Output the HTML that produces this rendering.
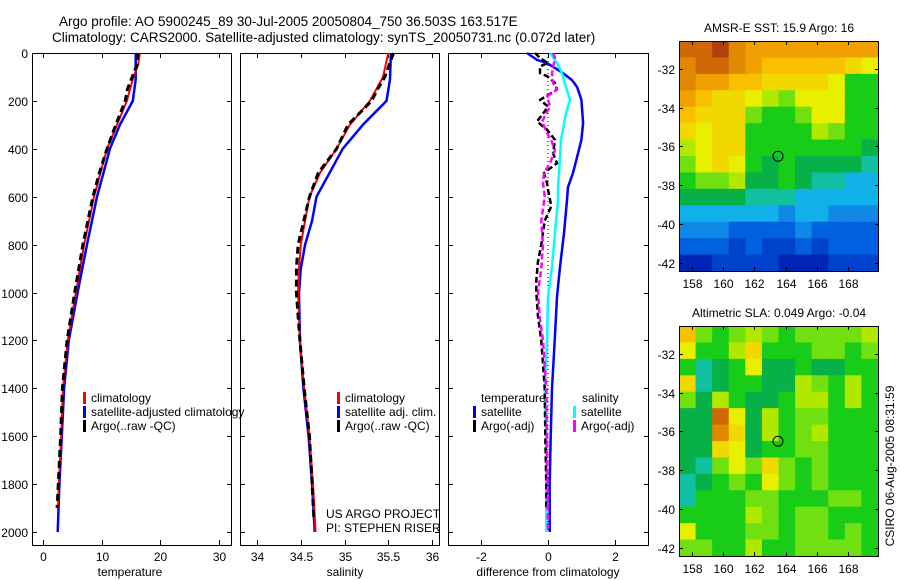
<!DOCTYPE html>
<html><head><meta charset="utf-8"><style>
html,body{margin:0;padding:0;background:#fff;}
svg{display:block;font-family:"Liberation Sans",sans-serif;}
</style></head><body>
<svg id="fig" width="900" height="580" viewBox="0 0 900 580">
<text x="59" y="26" font-size="13.5">Argo profile: AO 5900245_89 30-Jul-2005 20050804_750 36.503S 163.517E</text>
<text x="52" y="42" font-size="13.5">Climatology: CARS2000. Satellite-adjusted climatology: synTS_20050731.nc (0.072d later)</text>
<text x="779" y="32" font-size="12" text-anchor="middle">AMSR-E SST: 15.9 Argo: 16</text>
<text x="779" y="317" font-size="12" text-anchor="middle">Altimetric SLA: 0.049 Argo: -0.04</text>
<text transform="translate(894,466) rotate(-90)" font-size="12" text-anchor="middle">CSIRO 06-Aug-2005 08:31:59</text>
<text x="326" y="518" font-size="12">US ARGO PROJECT</text>
<text x="326" y="532" font-size="12">PI: STEPHEN RISER</text>
</svg>
<script>
// ---- profile data ----
const depthTicks=[0,200,400,600,800,1000,1200,1400,1600,1800,2000];
const tClimDepth=[0,50,100,200,300,400,500,600,800,1000,1200,1400,1600,1800,1900];
const tClim=[16.5,16.2,15.4,14.3,12.6,10.9,9.8,8.7,7.0,5.6,4.2,3.4,3.1,2.7,2.55];
const tSatDepth=[0,110,200,300,400,500,600,800,1000,1200,1400,1600,1800,2000];
const tSat=[15.8,15.8,15.3,13.1,11.4,10.3,9.2,7.5,5.9,4.4,3.6,3.2,2.8,2.5];
const tArgoDepth=[0,50,100,150,200,300,400,500,600,800,1000,1200,1400,1600,1800,1900];
const tArgo=[16.2,16.0,15.2,14.4,14.0,12.4,10.9,9.6,8.5,6.8,5.4,4.1,3.3,3.0,2.6,2.4];
const sClimDepth=[0,100,200,300,400,500,600,700,800,900,1000,1200,1400,1600,1800,2000];
const sClim=[35.5,35.44,35.29,35.06,34.91,34.72,34.6,34.55,34.5,34.48,34.47,34.49,34.54,34.6,34.64,34.67];
const sSatDepth=[0,110,200,300,400,500,600,700,800,900,1000,1200,1400,1600,1800,2000];
const sSat=[35.53,35.52,35.48,35.21,34.98,34.83,34.68,34.63,34.55,34.5,34.48,34.49,34.53,34.59,34.63,34.66];
const sArgoDepth=[0,100,150,200,300,400,500,600,800,900,1000,1200,1400,1600,1800,1950];
const sArgo=[35.56,35.46,35.38,35.31,35.04,34.91,34.7,34.6,34.47,34.45,34.45,34.49,34.54,34.6,34.63,34.65];
const dTSatDepth=[0,29,42,84,113,142,196,292,363,434,501,560,614,752,893,1018,1200,1400,1600,1800,2000];
const dTSat=[-0.63,-0.33,-0.03,0.45,0.72,0.87,1.0,1.05,1.0,0.87,0.75,0.6,0.57,0.48,0.36,0.27,0.2,0.12,0.08,0.05,0.05];
const dSSatDepth=[0,42,84,142,196,251,363,501,560,614,752,893,1018,1200,1400,1600,2000];
const dSSat=[0.06,0.27,0.42,0.54,0.66,0.54,0.39,0.33,0.3,0.3,0.21,0.12,0,-0.03,-0.1,-0.05,-0.05];
const dTArgoDepth=[0,21,42,56,84,97,125,153,196,223,244,286,320,363,418,460,501,543,571,640,700,800,870,950,1000,1100,1200,1400,1600,1800,1900];
const dTArgo=[-0.39,-0.24,0,-0.24,-0.24,-0.03,0.21,0.27,-0.24,0,-0.1,-0.33,-0.03,0.21,0.15,0.27,-0.12,-0.03,0,0.1,-0.1,-0.2,-0.3,-0.35,-0.35,-0.3,-0.2,-0.1,-0.08,-0.05,-0.05];
const dSArgoDepth=[0,21,84,125,153,181,223,286,334,363,404,460,501,543,600,700,800,900,1000,1100,1200,1400,1600,2000];
const dSArgo=[0.15,0.21,0.12,0.15,0.27,-0.03,0.06,-0.18,-0.03,0.09,0.21,0.06,-0.12,-0.15,-0.1,-0.2,-0.15,-0.2,-0.3,-0.25,-0.15,-0.05,-0.03,0];
const tTicks=[0,10,20,30];
const sTicks=[34,34.5,35,35.5,36];
const sTickLabels=["34","34.5","35","35.5","36"];
const dTicks=[-2,0,2];
// ---- map data (colour index 0..9) ----
const lonTicks=[158,160,162,164,166,168];
const latTicks=[-32,-34,-36,-38,-40,-42];
const sstGrid=[
[8.5,8.5,9,8,7.5,7.5,7.5,7.5,7.5,7.5,7.5,7.5],
[8,8.5,8.5,8,7.5,7,7,7,7,7,6.5,6],
[8,7.5,7.5,7,7,6.5,6.5,6.5,6.5,6,4.5,4.5],
[7.5,7,6.5,6.5,6,5.5,5,6,6,6,4.5,4.5],
[7,6.5,6.5,6.5,5,4.5,4.5,5,6,6,4.5,4.5],
[6.5,6,6.5,6.5,4.5,4.5,4.5,4.5,5.5,5,4.5,4.5],
[5.5,6,6.5,6.5,4.5,4.5,4.5,4.5,4.5,4.5,4.5,4],
[5,6,6.5,6,4.5,4,4.5,4,4,4,4,3.5],
[4.5,5,5,5.5,4,4,4.5,4,3.5,3.5,3,3],
[4,4,4,4,3.5,3.5,3.5,3,3,3,3,3],
[3,3,3,3,3,3,2.5,3,3,2.5,2.5,2.5],
[2.5,2.5,2.5,2,2,2,2,2.5,2,2,2,2],
[2,2,2,1.5,2,1.5,1.5,2,1.5,2,2,2],
[1,1,1.5,1.5,1.5,1.5,1,0.8,1,1.5,1.5,1.5]];
const slaGrid=[
[7,5,4.5,5,5.5,5,4.5,5,5,5,5,5.5],
[6,4.5,4.5,5.5,6.5,4.5,4.5,4.5,5,5,4.5,5],
[4.5,3.5,4,4.5,6,4,4,4.5,4,4,4.5,4.5],
[6.5,3.5,4,4.5,4.5,4,4,5.5,5,4.5,5.5,4.5],
[5,4,5.5,4.5,4,4,4.5,5.5,5.5,4.5,5.5,4.5],
[4,4,8.5,6,4,5.5,4.5,5,5,4.5,4.5,4.5],
[4,4,8,6.5,4,5.5,4.5,5,5.5,4.5,4.5,4.5],
[4,4,6.5,6,4,4.5,4.5,5,5,4.5,4.5,4.5],
[4,3.5,5,6,5,6.5,5,4.5,5,4.5,4.5,4.5],
[3.5,4,4.5,5,4.5,6,5,4.5,5,4.5,4.5,4.5],
[3.5,4.5,4.5,4.5,5,5,4.5,4.5,4.5,5,5,4.5],
[4.5,4.5,4.5,4.5,5.5,5,4.5,5,5,4.5,4.5,4.5],
[6,4.5,4.5,4.5,5,5,4.5,5,5,4.5,5,4.5],
[5,5,4.5,4.5,5.5,4.5,4.5,5,5,5,5,4.5]];
const argoLon=163.517, argoLat=-36.503;

const NS="http://www.w3.org/2000/svg";
const svg=document.getElementById('fig');
function mk(tag,attrs,parent){const e=document.createElementNS(NS,tag);for(const k in attrs)e.setAttribute(k,attrs[k]);(parent||svg).appendChild(e);return e;}
const yD=d=>53+d*0.2395;
const TOP=53,BOT=545;
const panels=[
 {x0:32,x1:231,sc:v=>43+v*5.87,name:'temperature-panel'},
 {x0:240,x1:439,sc:v=>257+(v-34)*87.5,name:'salinity-panel'},
 {x0:448,x1:648,sc:v=>548+v*33.4,name:'difference-panel'}];
panels.forEach((p,i)=>{
 const g=mk('g',{});
 
 
 const r=mk('rect',{x:p.x0+0.5,y:TOP+0.5,width:p.x1-p.x0,height:BOT-TOP,fill:'none',stroke:'#000','stroke-width':1},g);
 
 
 depthTicks.forEach(d=>{const y=Math.round(yD(d))+0.5;
  mk('line',{x1:p.x0,x2:p.x0+5,y1:y,y2:y,stroke:'#000'},g);
  mk('line',{x1:p.x1-4,x2:p.x1+1,y1:y,y2:y,stroke:'#000'},g);
  if(i===0){const t=mk('text',{x:28,y:y+4.5,'font-size':12,'text-anchor':'end'});t.textContent=d;
   
   }
 });
});
function xTicks(p,vals,labels){vals.forEach((v,k)=>{const x=Math.round(p.sc(v))+0.5;
 mk('line',{x1:x,x2:x,y1:BOT,y2:BOT-5,stroke:'#000'});
 mk('line',{x1:x,x2:x,y1:TOP,y2:TOP+5,stroke:'#000'});
 const t=mk('text',{x:x,y:BOT+16,'font-size':12,'text-anchor':'middle'});t.textContent=labels?labels[k]:v;
 
 });}
xTicks(panels[0],tTicks);xTicks(panels[1],sTicks,sTickLabels);xTicks(panels[2],dTicks);
[['temperature',130],['salinity',345],['difference from climatology',548]].forEach(a=>{
 const t=mk('text',{x:a[1],y:576,'font-size':12,'text-anchor':'middle'});t.textContent=a[0];
 
 });
function series(p,depths,vals,color,w,dash,name){
 const pts=depths.map((d,k)=>p.sc(vals[k]).toFixed(1)+','+yD(d).toFixed(1)).join(' ');
 const l=mk('polyline',{points:pts,fill:'none',stroke:color,'stroke-width':w,'stroke-dasharray':dash||'none','stroke-linejoin':'round'});
 
 }
const z=mk('line',{x1:548,x2:548,y1:yD(0),y2:yD(2000),stroke:'#000','stroke-width':1,'stroke-dasharray':'1,3'});


series(panels[0],tSatDepth,tSat,'#0000ff',2.5,null,'temp-satellite-line');
series(panels[0],tClimDepth,tClim,'#ff0000',2,null,'temp-climatology-line');
series(panels[0],tArgoDepth,tArgo,'#000',3,'7,4','temp-argo-line');
series(panels[1],sSatDepth,sSat,'#0000ff',2.5,null,'sal-satellite-line');
series(panels[1],sClimDepth,sClim,'#ff0000',2,null,'sal-climatology-line');
series(panels[1],sArgoDepth,sArgo,'#000',3,'7,4','sal-argo-line');
series(panels[2],dTSatDepth,dTSat,'#0000ff',2.5,null,'temp-diff-satellite-line');
series(panels[2],dSSatDepth,dSSat,'#00ffff',2.5,null,'sal-diff-satellite-line');
series(panels[2],dTArgoDepth,dTArgo,'#000',2.5,'6,3','temp-diff-argo-line');
series(panels[2],dSArgoDepth,dSArgo,'#ff00ff',2.5,'6,3','sal-diff-argo-line');
function leg(x,y,color,label){mk('rect',{x:x,y:y-10,width:3,height:12,fill:color});
 const t=mk('text',{x:x+8,y:y,'font-size':12});t.textContent=label;
 
 }
leg(83,402,'#ff0000','climatology');leg(83,416,'#0000ff','satellite-adjusted climatology');leg(83,430,'#000','Argo(..raw -QC)');
leg(337,402,'#ff0000','climatology');leg(337,416,'#0000ff','satellite adj. clim.');leg(337,430,'#000','Argo(..raw -QC)');
{const t=mk('text',{x:481,y:402,'font-size':12});t.textContent='temperature';
 
 
 const s=mk('text',{x:582,y:402,'font-size':12});s.textContent='salinity';
 
 }
leg(473,416,'#0000ff','satellite');leg(473,430,'#000','Argo(-adj)');
leg(573,416,'#00ffff','satellite');leg(573,430,'#ff00ff','Argo(-adj)');
// colour map: index = value*2
const cmap=['#000c80','#001aa0','#0024b4','#0042cc','#0060e0','#1088e8','#10b0e8','#10c0a0','#08b048','#18cc18','#70e010','#b0e800','#e8f000','#f0d800','#f8c000','#f0a000','#e08800','#d06808','#b04010','#a03010'];
function col(v){const i=Math.max(0,Math.min(cmap.length-1,Math.round(v*2)));return cmap[i];}
function drawMap(grid,x0,y0,name){
 const W=199,H=230,nr=grid.length,nc=grid[0].length;
 const lonL=157.17,lonR=169.93,latT=-30.56,latB=-42.42;
 const lx=l=>x0+(l-lonL)/(lonR-lonL)*W, ly=l=>y0+(latT-l)/(latT-latB)*H;
 const g=mk('g',{});
 
 
 grid.forEach((row,r)=>row.forEach((v,c)=>{
  const cell=mk('rect',{x:(x0+c*W/nc).toFixed(2),y:(y0+r*H/nr).toFixed(2),width:(W/nc+0.6).toFixed(2),height:(H/nr+0.6).toFixed(2),fill:col(v)},g);
  
  }));
 mk('rect',{x:x0+0.5,y:y0+0.5,width:W,height:H,fill:'none',stroke:'#000'},g);
 lonTicks.forEach(l=>{const x=Math.round(lx(l))+0.5;
  mk('line',{x1:x,x2:x,y1:y0,y2:y0+4,stroke:'#000'},g);mk('line',{x1:x,x2:x,y1:y0+H,y2:y0+H-4,stroke:'#000'},g);
  const t=mk('text',{x:x,y:y0+H+17,'font-size':12,'text-anchor':'middle'},g);t.textContent=l;
  
  });
 latTicks.forEach(l=>{const y=Math.round(ly(l))+0.5;
  mk('line',{x1:x0,x2:x0+4,y1:y,y2:y,stroke:'#000'},g);mk('line',{x1:x0+W-3,x2:x0+W+1,y1:y,y2:y,stroke:'#000'},g);
  const t=mk('text',{x:x0-4,y:y+4.5,'font-size':12,'text-anchor':'end'},g);t.textContent=l;
  
  });
 const c=mk('circle',{cx:lx(argoLon),cy:ly(argoLat),r:5,fill:'none',stroke:'#000'},g);
 
 
}
drawMap(sstGrid,679,41,'sst-map');
drawMap(slaGrid,679,326,'sla-map');
</script>
</body></html>
